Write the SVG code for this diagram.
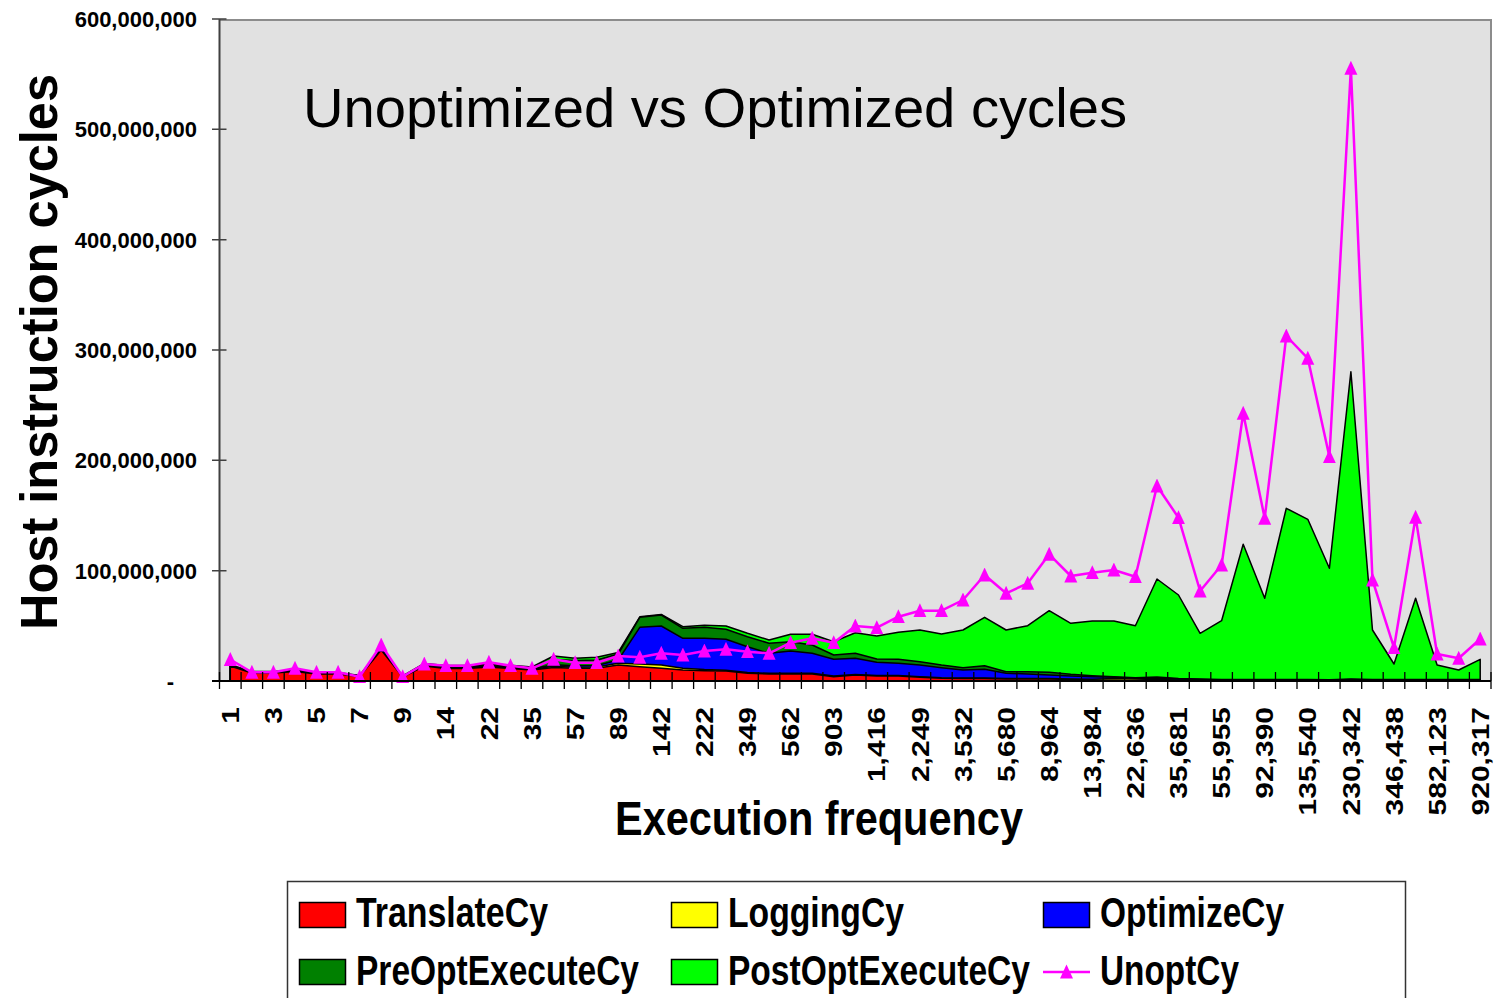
<svg xmlns="http://www.w3.org/2000/svg" width="1500" height="998" viewBox="0 0 1500 998">
  <defs>
    <style>
      text { font-family: "Liberation Sans", Arial, sans-serif; fill: #000; }
      .ylab { font-size: 22px; font-weight: bold; text-anchor: end; }
      .xlab { font-size: 24px; font-weight: bold; text-anchor: end; }
      .leg { font-size: 42px; font-weight: bold; }
      .area { stroke: #000; stroke-width: 1.5; stroke-linejoin: round; }
      .swatch { stroke: #000; stroke-width: 1.5; }
    </style>
    <marker id="tri" viewBox="0 0 14 14" markerWidth="14" markerHeight="14" refX="7" refY="7.5" markerUnits="userSpaceOnUse" orient="0">
      <polygon points="7,0 13.5,14 0.5,14" fill="#FF00FF"/>
    </marker>
  </defs>

  <rect width="1500" height="998" fill="#fff"/>

  <!-- plot area -->
  <g id="plot-area">
    <rect x="219.5" y="20" width="1271.5" height="661" fill="#E1E1E1"/>
    <path d="M219.5 20H1491V681" fill="none" stroke="#8C8C8C" stroke-width="2"/>
  </g>

  <!-- stacked areas, drawn from the top series down to the bottom one -->
  <g id="series-areas">
    <polygon id="PostOptExecuteCy" class="area" fill="#00FF00" points="230.3,664.6 251.9,671.6 273.4,671.6 295,670 316.5,672.5 338.1,672.5 359.6,675.5 381.2,648.5 402.7,676 424.3,663.5 445.8,665.5 467.4,665.5 488.9,663.5 510.5,665.3 532,667 553.6,656 575.1,658.3 596.7,657.3 618.2,652.5 639.8,616.8 661.3,614.5 682.9,626.7 704.4,625.3 726,626 747.5,633.3 769.1,640 790.6,634.3 812.2,634.3 833.7,641.7 855.3,632.7 876.8,636 898.4,632.3 919.9,630 941.5,634 963,630 984.6,617.3 1006.1,630 1027.7,625.7 1049.2,610.7 1070.8,623.3 1092.3,621 1113.9,621 1135.4,625.7 1157,579 1178.5,595 1200.1,633.3 1221.6,620.7 1243.2,544.3 1264.7,598.3 1286.3,508.3 1307.8,519.3 1329.4,568.3 1350.9,371.7 1372.5,630 1394,664 1415.6,598.3 1437.1,665 1458.7,670 1480.2,659.3 1480.2,681 230.3,681"/>
    <polygon id="PreOptExecuteCy" class="area" fill="#008000" points="230.3,665 251.9,672 273.4,672 295,670.5 316.5,673 338.1,673 359.6,675.8 381.2,649 402.7,676.3 424.3,664 445.8,666.3 467.4,666.3 488.9,664.5 510.5,666 532,667.8 553.6,659.5 575.1,660.5 596.7,660 618.2,654 639.8,617.3 661.3,615 682.9,628.3 704.4,627.3 726,629.3 747.5,636.7 769.1,643.3 790.6,641.7 812.2,645 833.7,655 855.3,653.3 876.8,659 898.4,659.3 919.9,661.7 941.5,665 963,667.7 984.6,665.7 1006.1,671.7 1027.7,671.7 1049.2,672.3 1070.8,674.3 1092.3,675.7 1113.9,676.7 1135.4,677.7 1157,677 1178.5,678.5 1200.1,679 1221.6,679.5 1243.2,679.5 1264.7,679.5 1286.3,679.5 1307.8,679.5 1329.4,679.7 1350.9,679 1372.5,679.5 1394,679.5 1415.6,679.5 1437.1,679.5 1458.7,679.5 1480.2,679.5 1480.2,681 230.3,681"/>
    <polygon id="OptimizeCy" class="area" fill="#0000FF" points="230.3,665.4 251.9,672.4 273.4,672.4 295,670.9 316.5,673.4 338.1,673.4 359.6,676.1 381.2,649.4 402.7,676.6 424.3,664.8 445.8,667.2 467.4,667.2 488.9,665.6 510.5,667.2 532,668.8 553.6,664.8 575.1,665.8 596.7,665.4 618.2,660 639.8,627.3 661.3,626 682.9,638.3 704.4,638.3 726,639.3 747.5,646.7 769.1,653.3 790.6,651 812.2,653.3 833.7,659.3 855.3,658.3 876.8,662.3 898.4,663.3 919.9,665 941.5,667.7 963,670 984.6,669.3 1006.1,673.3 1027.7,674 1049.2,675 1070.8,676 1092.3,676.7 1113.9,677.3 1135.4,678.3 1157,678 1178.5,679 1200.1,679.5 1221.6,680 1243.2,680 1264.7,680 1286.3,680 1307.8,680 1329.4,680.2 1350.9,679.6 1372.5,680 1394,680 1415.6,680 1437.1,680 1458.7,680 1480.2,680 1480.2,681 230.3,681"/>
    <polygon id="LoggingCy" class="area" fill="#FFFF00" points="230.3,665.7 251.9,672.7 273.4,672.7 295,671.2 316.5,673.7 338.1,673.7 359.6,676.3 381.2,649.7 402.7,676.8 424.3,665.4 445.8,667.9 467.4,667.9 488.9,666.3 510.5,667.9 532,669.4 553.6,666.3 575.1,667.2 596.7,667 618.2,663.3 639.8,664 661.3,665 682.9,668.3 704.4,669.6 726,670.2 747.5,672.6 769.1,673.3 790.6,673.3 812.2,673.3 833.7,676 855.3,674.5 876.8,675.5 898.4,675.5 919.9,676.8 941.5,677.8 963,678 984.6,678 1006.1,678.5 1027.7,678.5 1049.2,678.6 1070.8,679 1092.3,679.2 1113.9,678.6 1135.4,679 1157,679.5 1178.5,680 1200.1,680.3 1221.6,680.5 1243.2,680.5 1264.7,680.5 1286.3,680.5 1307.8,680.5 1329.4,680.5 1350.9,680.3 1372.5,680.5 1394,680.5 1415.6,680.5 1437.1,680.5 1458.7,680.5 1480.2,680.5 1480.2,681 230.3,681"/>
    <polygon id="TranslateCy" class="area" fill="#FF0000" points="230.3,666 251.9,673 273.4,673 295,671.5 316.5,674 338.1,674 359.6,676.5 381.2,650 402.7,677 424.3,666 445.8,668.5 467.4,668.5 488.9,667 510.5,668.5 532,670 553.6,667.5 575.1,668.3 596.7,668.3 618.2,665 639.8,666.7 661.3,668.3 682.9,670 704.4,670.7 726,671 747.5,673.3 769.1,674 790.6,674 812.2,674 833.7,676.7 855.3,675 876.8,676 898.4,676 919.9,677.3 941.5,678.3 963,678.5 984.6,678.5 1006.1,679 1027.7,679 1049.2,679 1070.8,679.5 1092.3,680 1113.9,680.3 1135.4,680.5 1157,680.5 1178.5,680.7 1200.1,680.8 1221.6,680.8 1243.2,680.8 1264.7,680.8 1286.3,680.8 1307.8,680.8 1329.4,680.8 1350.9,680.8 1372.5,680.8 1394,680.8 1415.6,680.8 1437.1,680.8 1458.7,680.8 1480.2,680.8 1480.2,681 230.3,681"/>
  </g>

  <!-- unoptimized cycles line with triangle markers -->
  <g id="UnoptCy">
    <polyline fill="none" stroke="#FF00FF" stroke-width="2.5" stroke-linejoin="round" marker-start="url(#tri)" marker-mid="url(#tri)" marker-end="url(#tri)" points="230.3,659.5 251.9,672.3 273.4,672.3 295,668.3 316.5,672.3 338.1,672.3 359.6,676.7 381.2,645 402.7,676.7 424.3,664 445.8,665.7 467.4,665.7 488.9,662.3 510.5,665.7 532,668.3 553.6,659.3 575.1,662.7 596.7,662.7 618.2,656 639.8,657.3 661.3,653.3 682.9,655 704.4,651 726,649.3 747.5,651.7 769.1,653.3 790.6,642.7 812.2,638.3 833.7,642.7 855.3,626 876.8,627.7 898.4,616.7 919.9,610.7 941.5,610.7 963,600 984.6,575 1006.1,593.3 1027.7,583.3 1049.2,554.3 1070.8,576 1092.3,572.7 1113.9,570 1135.4,576.7 1157,486 1178.5,517.7 1200.1,591 1221.6,565 1243.2,413.3 1264.7,518.3 1286.3,336 1307.8,358.3 1329.4,456.7 1350.9,68.3 1372.5,580 1394,647.7 1415.6,517.3 1437.1,654 1458.7,658.3 1480.2,639"/>
  </g>

  <!-- axes and tick marks -->
  <g id="axes" fill="none">
    <path d="M219.5 19V681" stroke="#404040" stroke-width="2"/>
    <path d="M212 681H1491" stroke="#000" stroke-width="2"/>
    <path d="M212 19H226.5M212 129.3H226.5M212 239.7H226.5M212 350H226.5M212 460.3H226.5M212 570.7H226.5" stroke="#404040" stroke-width="1.5"/>
    <path stroke="#000" stroke-width="1.3" d="M219.5 672V689M241.1 672V689M262.6 672V689M284.2 672V689M305.7 672V689M327.3 672V689M348.8 672V689M370.4 672V689M391.9 672V689M413.5 672V689M435 672V689M456.6 672V689M478.1 672V689M499.7 672V689M521.2 672V689M542.8 672V689M564.3 672V689M585.9 672V689M607.4 672V689M629 672V689M650.5 672V689M672.1 672V689M693.6 672V689M715.2 672V689M736.7 672V689M758.3 672V689M779.8 672V689M801.4 672V689M822.9 672V689M844.5 672V689M866 672V689M887.6 672V689M909.1 672V689M930.7 672V689M952.2 672V689M973.8 672V689M995.3 672V689M1016.9 672V689M1038.4 672V689M1060 672V689M1081.5 672V689M1103.1 672V689M1124.6 672V689M1146.2 672V689M1167.7 672V689M1189.3 672V689M1210.8 672V689M1232.4 672V689M1253.9 672V689M1275.5 672V689M1297 672V689M1318.6 672V689M1340.1 672V689M1361.7 672V689M1383.2 672V689M1404.8 672V689M1426.3 672V689M1447.9 672V689M1469.4 672V689M1491 672V689"/>
  </g>

  <!-- value axis labels -->
  <g id="y-labels">
    <text class="ylab" x="197" y="27">600,000,000</text>
    <text class="ylab" x="197" y="137.3">500,000,000</text>
    <text class="ylab" x="197" y="247.7">400,000,000</text>
    <text class="ylab" x="197" y="358">300,000,000</text>
    <text class="ylab" x="197" y="468.3">200,000,000</text>
    <text class="ylab" x="197" y="578.7">100,000,000</text>
    <text class="ylab" x="174" y="689">-</text>
  </g>

  <!-- category axis labels -->
  <g id="x-labels">
    <text class="xlab" transform="translate(238.9,707) rotate(-90) scale(1.25,1)">1</text>
    <text class="xlab" transform="translate(282,707) rotate(-90) scale(1.25,1)">3</text>
    <text class="xlab" transform="translate(325.1,707) rotate(-90) scale(1.25,1)">5</text>
    <text class="xlab" transform="translate(368.2,707) rotate(-90) scale(1.25,1)">7</text>
    <text class="xlab" transform="translate(411.3,707) rotate(-90) scale(1.25,1)">9</text>
    <text class="xlab" transform="translate(454.4,707) rotate(-90) scale(1.25,1)">14</text>
    <text class="xlab" transform="translate(497.5,707) rotate(-90) scale(1.25,1)">22</text>
    <text class="xlab" transform="translate(540.6,707) rotate(-90) scale(1.25,1)">35</text>
    <text class="xlab" transform="translate(583.7,707) rotate(-90) scale(1.25,1)">57</text>
    <text class="xlab" transform="translate(626.8,707) rotate(-90) scale(1.25,1)">89</text>
    <text class="xlab" transform="translate(669.9,707) rotate(-90) scale(1.25,1)">142</text>
    <text class="xlab" transform="translate(713,707) rotate(-90) scale(1.25,1)">222</text>
    <text class="xlab" transform="translate(756.1,707) rotate(-90) scale(1.25,1)">349</text>
    <text class="xlab" transform="translate(799.2,707) rotate(-90) scale(1.25,1)">562</text>
    <text class="xlab" transform="translate(842.3,707) rotate(-90) scale(1.25,1)">903</text>
    <text class="xlab" transform="translate(885.4,707) rotate(-90) scale(1.25,1)">1,416</text>
    <text class="xlab" transform="translate(928.5,707) rotate(-90) scale(1.25,1)">2,249</text>
    <text class="xlab" transform="translate(971.6,707) rotate(-90) scale(1.25,1)">3,532</text>
    <text class="xlab" transform="translate(1014.7,707) rotate(-90) scale(1.25,1)">5,680</text>
    <text class="xlab" transform="translate(1057.8,707) rotate(-90) scale(1.25,1)">8,964</text>
    <text class="xlab" transform="translate(1100.9,707) rotate(-90) scale(1.25,1)">13,984</text>
    <text class="xlab" transform="translate(1144,707) rotate(-90) scale(1.25,1)">22,636</text>
    <text class="xlab" transform="translate(1187.1,707) rotate(-90) scale(1.25,1)">35,681</text>
    <text class="xlab" transform="translate(1230.2,707) rotate(-90) scale(1.25,1)">55,955</text>
    <text class="xlab" transform="translate(1273.3,707) rotate(-90) scale(1.25,1)">92,390</text>
    <text class="xlab" transform="translate(1316.4,707) rotate(-90) scale(1.25,1)">135,540</text>
    <text class="xlab" transform="translate(1359.5,707) rotate(-90) scale(1.25,1)">230,342</text>
    <text class="xlab" transform="translate(1402.6,707) rotate(-90) scale(1.25,1)">346,438</text>
    <text class="xlab" transform="translate(1445.7,707) rotate(-90) scale(1.25,1)">582,123</text>
    <text class="xlab" transform="translate(1488.8,707) rotate(-90) scale(1.25,1)">920,317</text>
  </g>

  <!-- titles -->
  <g id="titles">
    <text x="303" y="127" font-size="56" textLength="824" lengthAdjust="spacingAndGlyphs">Unoptimized vs Optimized cycles</text>
    <text transform="translate(57,352) rotate(-90)" font-size="52" font-weight="bold" text-anchor="middle" textLength="556" lengthAdjust="spacingAndGlyphs">Host instruction cycles</text>
    <text x="819" y="835" font-size="49" font-weight="bold" text-anchor="middle" textLength="408" lengthAdjust="spacingAndGlyphs">Execution frequency</text>
  </g>

  <!-- legend -->
  <g id="legend">
    <rect x="287.5" y="881.5" width="1118" height="130" fill="#fff" stroke="#333" stroke-width="1.5"/>
    <g id="legend-translate">
      <rect class="swatch" x="299.5" y="902.5" width="46" height="25" fill="#FF0000"/>
      <text class="leg" x="356" y="927" textLength="192" lengthAdjust="spacingAndGlyphs">TranslateCy</text>
    </g>
    <g id="legend-logging">
      <rect class="swatch" x="671.5" y="902.5" width="46" height="25" fill="#FFFF00"/>
      <text class="leg" x="728" y="927" textLength="176" lengthAdjust="spacingAndGlyphs">LoggingCy</text>
    </g>
    <g id="legend-optimize">
      <rect class="swatch" x="1043.5" y="902.5" width="46" height="25" fill="#0000FF"/>
      <text class="leg" x="1100" y="927" textLength="184" lengthAdjust="spacingAndGlyphs">OptimizeCy</text>
    </g>
    <g id="legend-preopt">
      <rect class="swatch" x="299.5" y="959.5" width="46" height="25" fill="#008000"/>
      <text class="leg" x="356" y="985" textLength="283" lengthAdjust="spacingAndGlyphs">PreOptExecuteCy</text>
    </g>
    <g id="legend-postopt">
      <rect class="swatch" x="671.5" y="959.5" width="46" height="25" fill="#00FF00"/>
      <text class="leg" x="728" y="985" textLength="302" lengthAdjust="spacingAndGlyphs">PostOptExecuteCy</text>
    </g>
    <g id="legend-unopt">
      <path d="M1043 972H1090" stroke="#FF00FF" stroke-width="2.5" marker-mid="url(#tri)"/>
      <polygon points="1066.5,964.5 1073,978.5 1060,978.5" fill="#FF00FF"/>
      <text class="leg" x="1100" y="985" textLength="139" lengthAdjust="spacingAndGlyphs">UnoptCy</text>
    </g>
  </g>
</svg>
